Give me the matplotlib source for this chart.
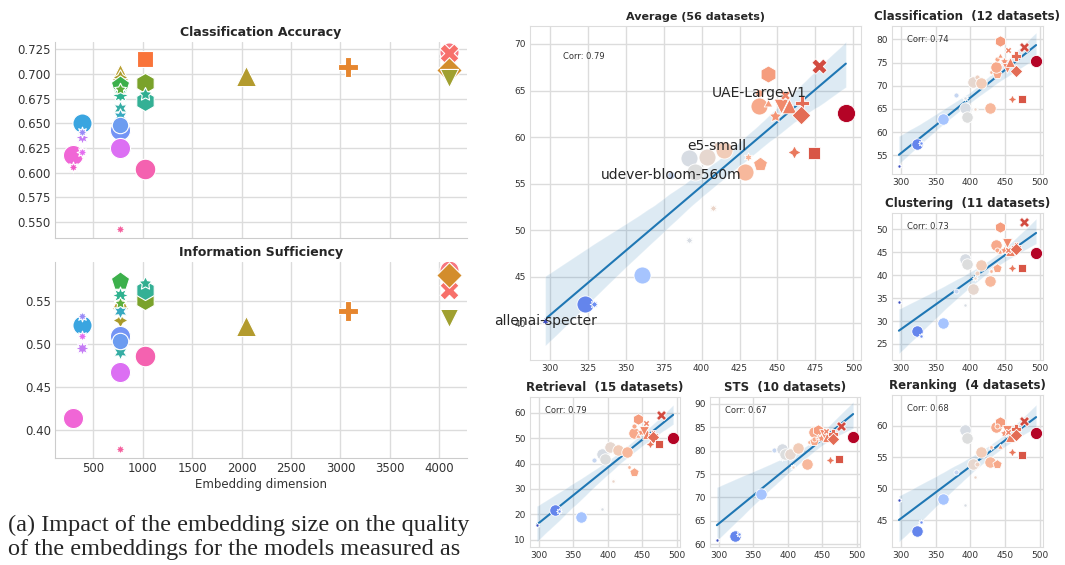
import numpy as np
import matplotlib
matplotlib.use('Agg')
from matplotlib import pyplot as plt
import seaborn as sns

sns.set_style('whitegrid')
plt.rcParams['font.family'] = ['DejaVu Sans']

# ---------------- left: embedding dimension vs quality ----------------
emb_dim = [300, 300, 384, 384, 384, 384, 768, 768, 768, 768, 768, 768, 768, 768,
           768, 768, 768, 1024, 1024, 1024, 1024, 1024, 2048, 3072, 4096, 4096, 4096, 4096]
clf_acc = [0.618, 0.606, 0.650, 0.636, 0.621, 0.641, 0.702, 0.697, 0.689, 0.679, 0.665,
           0.657, 0.685, 0.643, 0.648, 0.625, 0.5426, 0.7148, 0.6905, 0.6725, 0.680,
           0.6035, 0.698, 0.707, 0.7226, 0.721, 0.704, 0.6956]
info_suff = [0.4136, np.nan, 0.522, 0.4957, 0.5085, 0.5326, 0.550, 0.528, 0.5725, 0.557,
             0.491, 0.5376, 0.547, 0.5085, 0.5027, 0.4667, 0.378, 0.557, 0.551, 0.5628,
             0.5705, 0.4853, 0.521, 0.538, 0.586, 0.5628, 0.580, 0.530]

left_colors = ['#f066d6', '#f05ac8', '#3aa5e0', '#c57cf5', '#e46ef0', '#9a8cf7', '#b9a032',
               '#a99a2a', '#3cb04b', '#2eb28f', '#36ada4', '#38a9c0', '#5cae3a', '#7494f5',
               '#6c9cf0', '#dc6ff3', '#f5609e', '#f9743a', '#7aa22b', '#34b095', '#30ae90',
               '#f462b0', '#b39b2e', '#e6862e', '#f7767f', '#f7706a', '#d38d2c', '#a0a030']
left_markers = ['o', (8, 1, 0), 'o', (8, 1, 0), (8, 1, 0), (8, 1, 0), '^', (4, 1, 0), 'p',
                (8, 1, 0), (6, 1, 0), (6, 1, 0), (5, 1, 0), 'o', 'o', 'o', (8, 1, 0), 's',
                'h', 'h', (5, 1, 0), 'o', '^', 'P', 'o', 'X', 'D', 'v']
left_sizes = [210, 60, 190, 110, 60, 60, 140, 120, 190, 150, 120, 120, 80, 210, 140, 210, 60,
              140, 210, 210, 100, 220, 210, 210, 190, 190, 170, 170]

# ---------------- right: score vs x per task ----------------
sc_x = [297, 323.5, 329, 360.5, 380, 392, 392, 395.5, 403.5, 407.5, 410, 415, 428.5, 430.5,
        438.3, 437.5, 443.5, 438, 443.5, 448.5, 452.5, 457.5, 455, 466, 465.5, 460.8, 474,
        477.5, 495]
avg = [40.3, 42.1, 42.1, 45.2, 55.9, 48.95, 57.8, 56.3, 57.9, 52.35, 59.0, 58.6, 56.2, 57.9,
       57.1, 63.3, 66.8, 64.7, 63.6, 62.3, 63.3, 63.3, 64.5, 63.7, 62.4, 58.4, 58.3, 67.6, 62.6]
clf = [52.6, 57.4, 57.7, 62.9, 68.1, 67.4, 65.1, 63.2, 70.9, 64.9, 71.8, 70.5, 65.3, 73.0,
       72.5, 74.1, 79.6, 75.7, 76.3, 75.4, 73.8, 75.2, 77.6, 76.3, 73.2, 67.2, 67.2, 78.4, 75.4]
clu = [34.1, 27.8, 26.7, 29.65, 36.5, 33.5, 43.6, 42.4, 37.1, 39.5, 40.5, 42.2, 38.7, 41.0,
       41.6, 46.6, 50.6, 45.5, 45.0, 45.5, 47.1, 45.3, 45.6, 46.2, 45.8, 41.5, 41.6, 51.6, 44.9]
ret = [15.7, 21.7, 21.4, 19.0, 41.25, 22.0, 43.9, 41.9, 46.7, 33.0, 44.5, 45.2, 44.7, 38.7,
       36.7, 52.0, 57.6, 54.7, 50.7, 52.5, 53.0, 51.6, 55.9, 51.2, 50.5, 47.6, 47.6, 59.2, 50.0]
sts = [61.0, 61.8, 62.3, 70.8, 80.1, 78.5, 80.3, 79.2, 79.2, 76.5, 81.0, 80.5, 77.2, 81.9,
       82.1, 83.9, 84.5, 82.5, 83.0, 82.8, 83.5, 83.0, 84.2, 83.5, 82.4, 78.0, 78.3, 85.3, 83.0]
rr = [48.2, 43.3, 44.7, 48.4, 52.6, 47.5, 59.3, 58.05, 53.95, 51.8, 54.0, 55.8, 54.2, 56.6,
      53.95, 59.8, 60.5, 60.0, 56.6, 58.8, 59.3, 58.2, 59.0, 59.5, 58.6, 55.9, 55.4, 60.7, 58.8]
corr_vals = ['0.79', '0.74', '0.73', '0.79', '0.67', '0.68']
panel_titles = ['Average (56 datasets)', 'Classification  (12 datasets)',
                'Clustering  (11 datasets)', 'Retrieval  (15 datasets)',
                'STS  (10 datasets)', 'Reranking  (4 datasets)']
labelled = {0: 'allenai-specter', 4: 'udever-bloom-560m', 10: 'e5-small', 17: 'UAE-Large-V1'}

right_markers = [(6, 1, 0), 'o', (8, 1, 0), 'o', 'o', (8, 1, 0), 'o', 'o', 'o', (8, 1, 0), 'o',
                 'o', 'o', (6, 1, 0), 'p', 'o', 'h', 'o', (3, 1, 0), (5, 1, 0), 'v', '^', 'X',
                 'P', 'D', (4, 1, 0), 's', 'X', 'o']
right_sizes = [35, 150, 40, 150, 30, 40, 150, 150, 150, 40, 30, 150, 150, 45, 110, 150, 150,
               30, 50, 90, 110, 110, 50, 110, 90, 90, 80, 120, 170]

W, H = 1065, 565
fig = plt.figure(figsize=(W / 100, H / 100), dpi=100)


def fax(x0, y0, x1, y1):
    return fig.add_axes([x0 / W, 1 - y1 / H, (x1 - x0) / W, (y1 - y0) / H])


grid_c = '#dcdcdc'

# left panels
ax_acc = fax(55, 42, 467, 238)
ax_is = fax(55, 262, 467, 458)
for ax, vals, title in [(ax_acc, clf_acc, 'Classification Accuracy'),
                        (ax_is, info_suff, 'Information Sufficiency')]:
    for i in range(len(emb_dim)):
        ax.scatter(emb_dim[i], vals[i], s=left_sizes[i], marker=left_markers[i],
                   color=left_colors[i], edgecolor='white', linewidth=0.8, zorder=3)
    ax.set_xlim(113, 4280)
    ax.set_xticks(np.arange(500, 4001, 500))
    ax.set_title(title, fontsize=9, fontweight='bold', color='#262626', pad=4)
    ax.grid(True, color=grid_c, lw=1.0)
    for s in ['top', 'right']:
        ax.spines[s].set_visible(False)
    for s in ['left', 'bottom']:
        ax.spines[s].set_color('#cccccc')
    ax.tick_params(labelsize=8.5, colors='#333333', length=0, pad=3)
ax_acc.set_ylim(0.5335, 0.7325)
ax_acc.set_yticks(np.arange(0.55, 0.7251, 0.025))
ax_acc.set_yticklabels(['%.3f' % v for v in np.arange(0.55, 0.7251, 0.025)])
ax_acc.set_xticklabels([])
ax_is.set_ylim(0.3674, 0.595)
ax_is.set_yticks([0.40, 0.45, 0.50, 0.55])
ax_is.set_yticklabels(['0.40', '0.45', '0.50', '0.55'])
ax_is.set_xlabel('Embedding dimension', fontsize=8.5, color='#333333', labelpad=2)

fig.text(8 / W, 1 - 525 / H, '(a) Impact of the embedding size on the quality',
         family='Liberation Serif', fontsize=17.5, va='center', ha='left')
fig.text(8 / W, 1 - 550 / H, 'of the embeddings for the models measured as',
         family='Liberation Serif', fontsize=17.5, va='center', ha='left')

# right panels
axes_r = [fax(530, 26, 861, 360), fax(892, 26, 1043, 174), fax(892, 213, 1043, 360),
          fax(530, 397, 680, 547), fax(710, 397, 860, 547), fax(892, 395, 1043, 547)]
series = [avg, clf, clu, ret, sts, rr]
ylims = [(36.06, 71.93), (50.97, 82.87), (21.5, 53.6), (7.05, 66.3), (59.42, 91.45),
         (40.8, 64.85)]
yticks = [np.arange(40, 71, 5), np.arange(55, 81, 5), np.arange(25, 51, 5),
          np.arange(10, 61, 10), np.arange(60, 91, 5), np.arange(45, 61, 5)]
cmap = plt.get_cmap('coolwarm')
norm = plt.Normalize(min(sc_x), max(sc_x))

for k, ax in enumerate(axes_r):
    vals = series[k]
    scale = 1.0 if k == 0 else 0.45
    sns.regplot(x=np.array(sc_x), y=np.array(vals), ax=ax, scatter=False, ci=95,
                seed=3, color='#1f77b4', line_kws={'lw': 1.5})
    for i in range(len(sc_x)):
        ax.scatter(sc_x[i], vals[i], s=right_sizes[i] * scale, marker=right_markers[i],
                   color=cmap(norm(sc_x[i])), edgecolor='white', linewidth=0.6, zorder=3)
    ax.set_xlim(287, 505)
    ax.set_ylim(*ylims[k])
    ax.set_yticks(yticks[k])
    ax.set_xticks(np.arange(300, 501, 25 if k == 0 else 50))
    ax.set_xlabel('')
    ax.set_ylabel('')
    ax.grid(True, color=grid_c, lw=1.0)
    for s in ax.spines.values():
        s.set_color('#dddddd')
        s.set_visible(True)
    ax.tick_params(labelsize=6.5, colors='#333333', length=0, pad=3)
    ax.set_title(panel_titles[k], fontsize=8 if k == 0 else 8.5, fontweight='bold',
                 color='#262626', pad=4)
    ax.text(0.1, 0.91, 'Corr: ' + corr_vals[k], transform=ax.transAxes, fontsize=6,
            color='#333333', ha='left', va='center')

for i, name in labelled.items():
    axes_r[0].text(sc_x[i], avg[i], name, fontsize=10, color='#262626', ha='center',
                   va='center', zorder=4)

fig.savefig('out.png', dpi=100)
